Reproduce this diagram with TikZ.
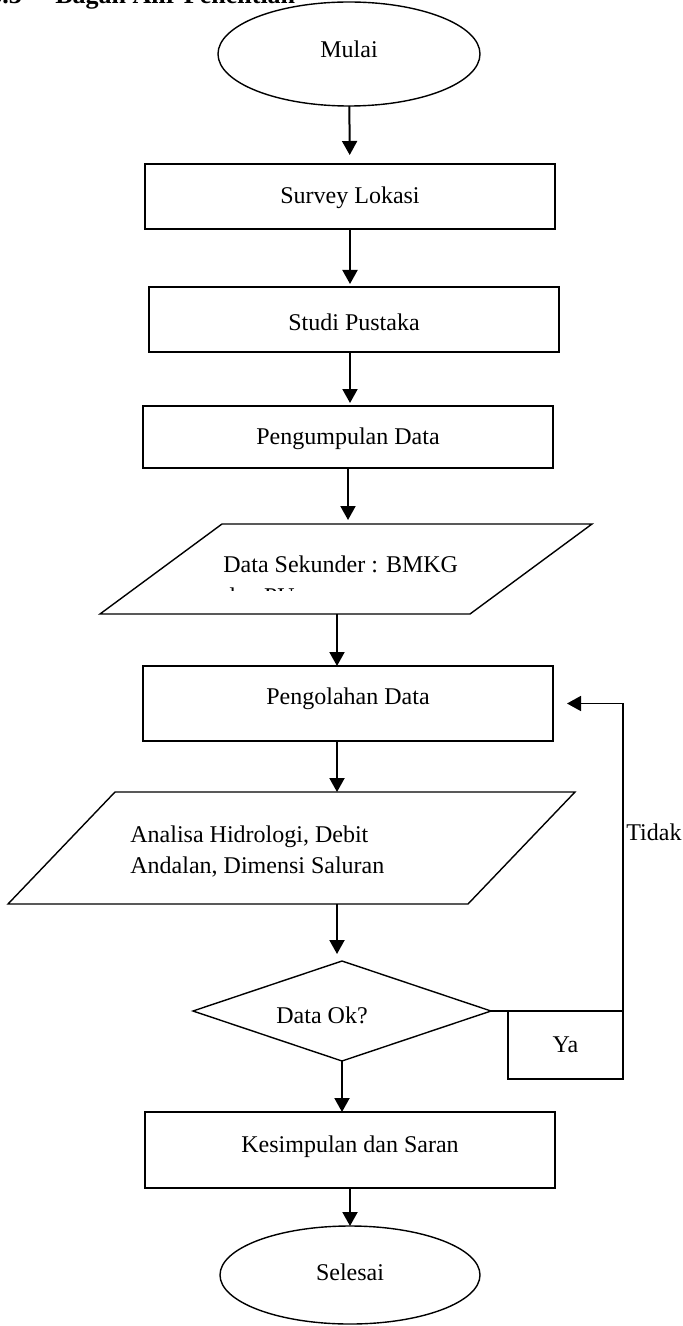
\documentclass[tikz,border=0pt]{standalone}
\usepackage{fontspec}
\setmainfont{Liberation Serif}
\usetikzlibrary{shapes.geometric,arrows.meta}

\tikzset{
  proses/.style={draw, line width=0.7pt, rectangle, minimum width=205pt, inner sep=0pt, outer sep=0pt},
  terminal/.style={draw, line width=0.7pt, ellipse, inner sep=0pt, outer sep=0pt},
  masukan/.style={rectangle, inner sep=0pt, outer sep=0pt},
  garis/.style={line width=0.7pt, line join=miter},
  keputusan/.style={draw, line width=0.7pt, diamond, inner sep=0pt, outer sep=0pt},
  alir/.style={line width=1pt, -{Triangle[width=7.5pt,length=7pt]}},
  teks/.style={anchor=base, inner sep=0pt, font=\fontsize{12}{15.5}\selectfont},
  kepala/.style={anchor=base west, inner sep=0pt, font=\fontsize{13}{16}\selectfont\bfseries}
}

\begin{document}
\begin{tikzpicture}[x=1pt, y=-1pt]
  \useasboundingbox (0,0) rectangle (341.5,663);

  % Judul (terpotong di atas)
  \node[kepala] (nomor) at (-5.5,2) {3.3};
  \node[kepala] (judul) at (27.5,2) {Bagan Alir Penelitian};

  % Bentuk-bentuk bagan
  \node[terminal, minimum width=131pt, minimum height=52pt,
    label={[teks, yshift=2.5pt]center:Mulai}] (mulai) at (174.5,27) {};
  \node[proses, minimum height=32.5pt,
    label={[teks, yshift=-0.75pt]center:Survey Lokasi}] (survey) at (175,98.25) {};
  \node[proses, minimum height=32.5pt,
    label={[teks, yshift=-1.25pt]center:Studi Pustaka}] (studi) at (177,159.75) {};
  \node[proses, minimum height=31pt,
    label={[teks, yshift=-1pt]center:Pengumpulan Data}] (kumpul) at (174,218.5) {};
  \node[masukan, minimum width=185pt, minimum height=45pt] (sekunder) at (203.5,284.5) {};
  \draw[garis] (sekunder.north west) -- (sekunder.north east)
    -- ([xshift=-61pt]sekunder.south east) -- ([xshift=-61pt]sekunder.south west) -- cycle;
  \node[proses, minimum height=37.5pt,
    label={[teks, yshift=2.25pt]center:Pengolahan Data}] (olah) at (174,351.75) {};
  \node[masukan, minimum width=230pt, minimum height=56pt] (analisa) at (172.5,424) {};
  \draw[garis] (analisa.north west) -- (analisa.north east)
    -- ([xshift=-53.5pt]analisa.south east) -- ([xshift=-53.5pt]analisa.south west) -- cycle;
  \node[keputusan, minimum width=149pt, minimum height=50pt,
    label={[teks, xshift=-10pt, yshift=-2pt]center:Data Ok?}] (cek) at (171,505.5) {};
  \node[proses, minimum width=57.5pt, minimum height=34pt,
    label={[teks]center:Ya}] (ya) at (282.75,522.5) {};
  \node[proses, minimum height=38pt,
    label={[teks, yshift=1.75pt]center:Kesimpulan dan Saran}] (simpul) at (175,575) {};
  \node[terminal, minimum width=130pt, minimum height=49pt,
    label={[teks, yshift=1.5pt]center:Selesai}] (selesai) at (175,637.5) {};

  % Teks dalam jajar genjang
  \node[teks, anchor=base west] (sekunderteks) at (111.5,286) {Data Sekunder : BMKG};
  \begin{scope}
    \clip (100,280) rectangle (300,295);
    \node[teks, anchor=base west] (sekunderpotong) at (111.5,302) {dan PU};
  \end{scope}
  \node[teks, anchor=base west, align=left] (analisateks) at (65,436.5)
    {Analisa Hidrologi, Debit\\Andalan, Dimensi Saluran};
  \node[teks, anchor=base west] (tidak) at (313,420) {Tidak};

  % Panah
  \coordinate (jalur) at (168.5,0);
  \draw[alir, shorten >=4.5pt] (mulai) -- (survey);
  \draw[alir, shorten >=1.5pt] (survey) -- (survey |- studi.north);
  \draw[alir, shorten >=1.5pt] (survey |- studi.south) -- (survey |- kumpul.north);
  \draw[alir, shorten >=2pt] (kumpul) -- (kumpul |- sekunder.north);
  \draw[alir] (jalur |- sekunder.south) -- (jalur |- olah.north);
  \draw[alir] (jalur |- olah.south) -- (jalur |- analisa.north);
  \draw[alir, shorten >=3.5pt] (jalur |- analisa.south) -- (jalur |- cek.north);
  \draw[alir] (cek.south) -- (cek.south |- simpul.north);
  \draw[alir] (simpul) -- (selesai);

  % Kembali bila data belum ok
  \draw[alir, line width=0.8pt, shorten >=7pt] (cek.east) -- (ya.north east) |- (olah.east);
\end{tikzpicture}
\end{document}
